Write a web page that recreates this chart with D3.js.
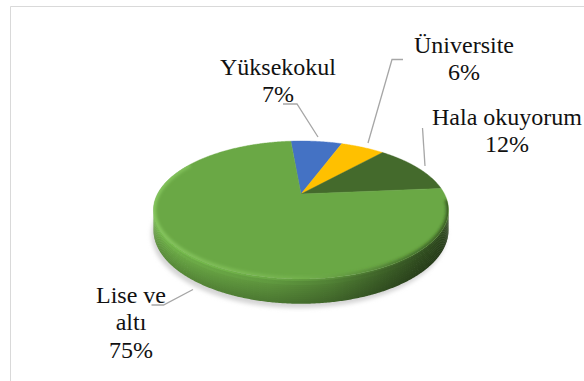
<!DOCTYPE html>
<html>
<head>
<meta charset="utf-8">
<script src="https://cdn.jsdelivr.net/npm/d3@7"></script>
</head>
<body style="margin:0">
<div style="position:relative;width:584px;height:381px">
<svg id="chart" width="584" height="381" style="position:absolute;left:0;top:0"></svg>
<svg id="labels" width="584" height="381" style="position:absolute;left:0;top:0"></svg>
</div>
<script>
// Education level breakdown (percent of respondents)
const categories = ["Yüksekokul", "Üniversite", "Hala okuyorum", "Lise ve altı"];
const values = [7, 6, 12, 75];
const colors = ["#4472c4", "#ffc000", "#446a2c", "#6aa845"];
const labelLines = [["Yüksekokul", "7%"], ["Üniversite", "6%"], ["Hala okuyorum", "12%"], ["Lise ve", "altı", "75%"]];

const W = 584, H = 381;
const svg = d3.select("#chart");
const defs = svg.append("defs");

// chart area frame
svg.append("path")
  .attr("d", `M10.5,${H} V6.5 H${W}`)
  .attr("fill", "none").attr("stroke", "#d9d9d9").attr("stroke-width", 1);

// 3D pie geometry: tilted disk seen with mild perspective
const cx = 301, cy = 194;   // apex of the top face
const rx = 143.5;           // horizontal radius at mid depth
const ry = 65.3;            // depth radius before perspective
const k = 0.232;            // perspective strength
const T = 18.4;             // disk thickness
const rad = Math.PI / 180;
const startDeg = -5;

function proj(theta, h) {
  const u = Math.sin(theta), v = -Math.cos(theta);
  const d = 1 - k * v;
  return [cx + rx * u / d, cy + (ry * v + h) / d];
}
function arcPts(a0, a1, h) {
  const n = Math.max(2, Math.ceil(Math.abs(a1 - a0) / (0.5 * rad)));
  return d3.range(n + 1).map(i => proj(a0 + (a1 - a0) * i / n, h));
}

const pie = d3.pie().sort(null).value(d => d)
  .startAngle(startDeg * rad).endAngle((360 + startDeg) * rad);
const arcs = pie(values);

// soft shadow under the disk
const blur = defs.append("filter").attr("id", "shadowBlur")
  .attr("x", "-20%").attr("y", "-20%").attr("width", "140%").attr("height", "140%");
blur.append("feGaussianBlur").attr("stdDeviation", 2.2);
const shadowPts = arcPts(0, 2 * Math.PI, T).map(p => [p[0] - 2, p[1] + 5]);
svg.append("path")
  .attr("d", d3.line()(shadowPts) + "Z")
  .attr("fill", "#d4d4d4").attr("filter", "url(#shadowBlur)");

// visible side band (front half, between silhouette tangents)
const thS = Math.acos(-k), thE = 2 * Math.PI - thS;
const leftX = proj(thE, 0)[0], rightX = proj(thS, 0)[0];
const hFactor = [[0, 1.06], [0.15, 1.0], [0.4, 0.9], [0.6, 0.76], [0.78, 0.58], [0.9, 0.47], [1, 0.42]];
function vFactor(t) {
  if (t < 0.12) return 1.14;
  if (t < 0.25) return 1.04;
  return 1.0 - (t - 0.25) * 0.25;
}
function scaleColor(c, f) {
  const r = d3.rgb(c);
  return d3.rgb(Math.min(255, r.r * f), Math.min(255, r.g * f), Math.min(255, r.b * f)).formatHex();
}
const layers = 12;
const sideG = svg.append("g");
arcs.forEach((a, si) => {
  const s0 = Math.max(a.startAngle, thS), s1 = Math.min(a.endAngle, thE);
  if (s1 <= s0) return;
  for (let L = 0; L < layers; L++) {
    const t0 = L / layers, t1 = (L + 1) / layers;
    const gid = `side${si}_${L}`;
    const g = defs.append("linearGradient").attr("id", gid)
      .attr("gradientUnits", "userSpaceOnUse")
      .attr("x1", leftX).attr("x2", rightX).attr("y1", 0).attr("y2", 0);
    const vf = vFactor((t0 + t1) / 2);
    hFactor.forEach(([o, f]) => {
      g.append("stop").attr("offset", o).attr("stop-color", scaleColor(colors[si], f * vf * 0.97));
    });
    const top = arcPts(s0, s1, T * t0);
    const bot = arcPts(s0, s1, T * t1 + 0.6).reverse();
    sideG.append("path")
      .attr("d", d3.line()(top.concat(bot)) + "Z")
      .attr("fill", `url(#${gid})`);
  }
});

// top face slices
const topG = svg.append("g");
arcs.forEach((a, i) => {
  const pts = [[cx, cy]].concat(arcPts(a.startAngle, a.endAngle, 0));
  topG.append("path")
    .attr("d", d3.line()(pts) + "Z")
    .attr("fill", colors[i])
    .attr("stroke", colors[i]).attr("stroke-width", 0.4);
});

// gentle rim bevel on the top face
const rimBlur = defs.append("filter").attr("id", "rimBlur");
rimBlur.append("feGaussianBlur").attr("stdDeviation", 1.6);
const clip = defs.append("clipPath").attr("id", "topClip");
clip.append("path").attr("d", d3.line()(arcPts(0, 2 * Math.PI, 0)) + "Z");
const rimGrad = defs.append("linearGradient").attr("id", "rimGrad")
  .attr("gradientUnits", "userSpaceOnUse")
  .attr("x1", leftX).attr("x2", rightX).attr("y1", 0).attr("y2", 0);
rimGrad.append("stop").attr("offset", 0).attr("stop-color", "#8fd066").attr("stop-opacity", 0.75);
rimGrad.append("stop").attr("offset", 0.5).attr("stop-color", "#86c45d").attr("stop-opacity", 0.35);
rimGrad.append("stop").attr("offset", 0.8).attr("stop-color", "#2f4d1d").attr("stop-opacity", 0.45);
rimGrad.append("stop").attr("offset", 1).attr("stop-color", "#243d16").attr("stop-opacity", 0.7);
svg.append("g").attr("clip-path", "url(#topClip)")
  .append("path")
  .attr("d", d3.line()(arcPts(95 * rad, 300 * rad, 0)))
  .attr("fill", "none").attr("stroke", "url(#rimGrad)")
  .attr("stroke-width", 5).attr("filter", "url(#rimBlur)");

// leader lines from labels to slices
const leaderLines = [
  [[283, 104], [297, 104], [318, 137]],
  [[403, 59.5], [392, 59.5], [368, 143]],
  [[422.5, 128], [425, 166]],
  [[151.5, 305], [163.5, 305], [193, 289.5]]
];
svg.append("g").selectAll("path").data(leaderLines).join("path")
  .attr("d", d => d3.line()(d))
  .attr("fill", "none").attr("stroke", "#a6a6a6").attr("stroke-width", 1.3);

// data labels, one text element per line, in their own layer
const labelPos = [[278, 75], [464, 53], [507, 125], [131, 303]];
const lineH = 27.3;
const rows = [];
labelLines.forEach((lines, i) => lines.forEach((s, j) =>
  rows.push({ s, x: labelPos[i][0], y: labelPos[i][1] + j * lineH })));
d3.select("#labels").selectAll("text").data(rows).join("text")
  .attr("x", d => d.x).attr("y", d => d.y)
  .attr("text-anchor", "middle")
  .attr("font-size", 24)
  .style("font-family", '"Liberation Serif"')
  .style("fill", "#111")
  .text(d => d.s);
</script>
</body>
</html>
